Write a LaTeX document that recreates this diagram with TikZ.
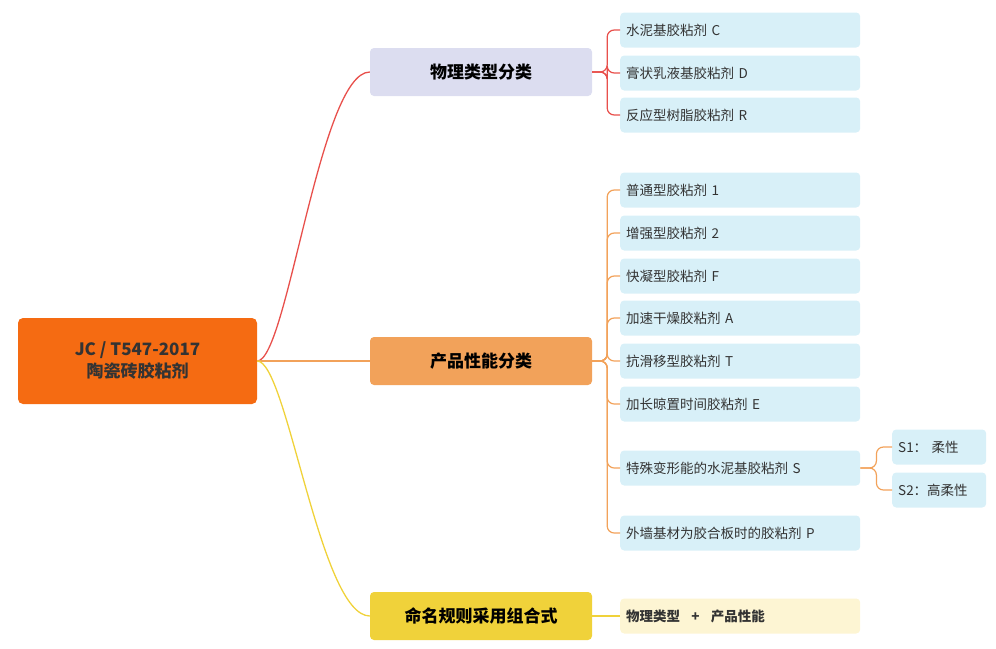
\documentclass[tikz,border=0pt]{standalone}
\usepackage{fontspec}
\setmainfont{Noto Sans CJK SC}
\definecolor{rootc}{HTML}{F56B12}
\definecolor{redl}{HTML}{E8504C}
\definecolor{orgl}{HTML}{F2A25A}
\definecolor{yell}{HTML}{F0D23A}
\definecolor{lavc}{HTML}{DCDDF0}
\definecolor{leafc}{HTML}{D8F0F8}
\definecolor{pyel}{HTML}{FDF5D3}
\definecolor{txt}{HTML}{333333}
\tikzset{
  branch/.style={rounded corners=4pt, minimum width=222pt, minimum height=48pt,
    font=\fontsize{17}{20}\selectfont\bfseries, text=black},
  leaf/.style={rounded corners=4pt, fill=leafc, minimum width=240pt, minimum height=35pt,
    anchor=west, text width=228pt, align=left, font=\fontsize{13.5}{16}\selectfont, text=txt},
  sub/.style={leaf, minimum width=94pt, text width=82pt},
  link/.style={line width=1.2pt, rounded corners=7pt}
}
\begin{document}
\begin{tikzpicture}[x=1pt, y=-1pt]
  \useasboundingbox (0,0) rectangle (996,648);

  \node[fill=rootc, rounded corners=5pt, minimum width=239pt, minimum height=86pt,
    align=center, font=\fontsize{17}{22}\selectfont\bfseries, text=txt]
    (root) at (137.5,361) {JC / T547-2017\\陶瓷砖胶粘剂};

  \node[branch, fill=lavc] (phys) at (481,72) {物理类型分类};
  \node[branch, fill=orgl] (perf) at (481,361) {产品性能分类};
  \node[branch, fill=yell] (name) at (481,616) {命名规则采用组合式};

  \draw[redl, line width=1.3pt] (root.east) .. controls +(30,0) and +(-50,0) .. (phys.west);
  \draw[orgl, line width=1.3pt] (root.east) -- (perf.west);
  \draw[yell, line width=1.3pt] (root.east) .. controls +(30,0) and +(-50,0) .. (name.west);

  % physical types
  \node[leaf] (c) at (620,30) {水泥基胶粘剂 C};
  \node[leaf] (d) at (620,73) {膏状乳液基胶粘剂 D};
  \node[leaf] (r) at (620,115) {反应型树脂胶粘剂 R};
  \foreach \l in {c,d,r}
    \draw[link, redl] (phys.east) -- ++(15,0) |- (\l.west);

  % performance
  \node[leaf] (p1) at (620,190) {普通型胶粘剂 1};
  \node[leaf] (p2) at (620,233) {增强型胶粘剂 2};
  \node[leaf] (pf) at (620,276) {快凝型胶粘剂 F};
  \node[leaf] (pa) at (620,318) {加速干燥胶粘剂 A};
  \node[leaf] (pt) at (620,361) {抗滑移型胶粘剂 T};
  \node[leaf] (pe) at (620,404) {加长晾置时间胶粘剂 E};
  \node[leaf] (ps) at (620,468) {特殊变形能的水泥基胶粘剂 S};
  \node[leaf] (pp) at (620,533) {外墙基材为胶合板时的胶粘剂 P};
  \foreach \l in {p1,p2,pf,pa,pt,pe,ps,pp}
    \draw[link, orgl] (perf.east) -- ++(15,0) |- (\l.west);

  \node[sub] (s1) at (892,447) {S1： 柔性};
  \node[sub] (s2) at (892,490) {S2：高柔性};
  \foreach \l in {s1,s2}
    \draw[link, orgl] (ps.east) -- ++(16,0) |- (\l.west);

  % naming
  \node[leaf, fill=pyel, font=\fontsize{13.5}{16}\selectfont\bfseries] (combo) at (620,616)
    {物理类型 \enspace + \enspace 产品性能};
  \draw[link, yell] (name.east) -- (combo.west);
\end{tikzpicture}
\end{document}
